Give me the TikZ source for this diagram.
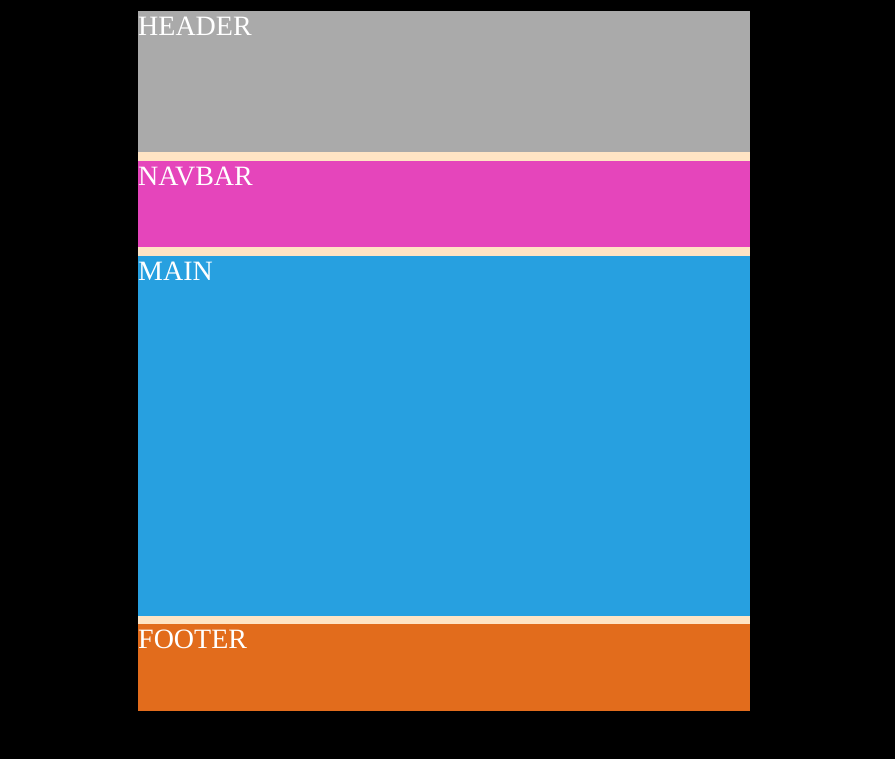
\documentclass[tikz,border=0pt]{standalone}
\usepackage{fontspec}
\setmainfont{Liberation Serif}
\definecolor{hdr}{HTML}{AAAAAA}
\definecolor{nav}{HTML}{E545BB}
\definecolor{mainc}{HTML}{27A0E0}
\definecolor{foot}{HTML}{E26C1C}
\definecolor{gap}{HTML}{FFE4C4}
\begin{document}
\begin{tikzpicture}[x=1pt,y=1pt,
  lbl/.style={anchor=base west,inner sep=0pt,text=white,font=\fontsize{28}{30}\selectfont}]
\fill[black] (0,0) rectangle (895,759);
\useasboundingbox (0,0) rectangle (895,759);
% container background (gaps)
\fill[gap] (138,759-711) rectangle (750,759-11);
\fill[hdr] (138,759-11) rectangle (750,759-152);
\fill[nav] (138,759-161) rectangle (750,759-247);
\fill[mainc] (138,759-256) rectangle (750,759-616);
\fill[foot] (138,759-624) rectangle (750,759-711);
\node[lbl] (h) at (138,759-36) {HEADER};
\node[lbl] (n) at (138,759-186) {NAVBAR};
\node[lbl] (m) at (138,759-281) {MAIN};
\node[lbl] (f) at (138,759-649) {FOOTER};
\end{tikzpicture}
\end{document}
